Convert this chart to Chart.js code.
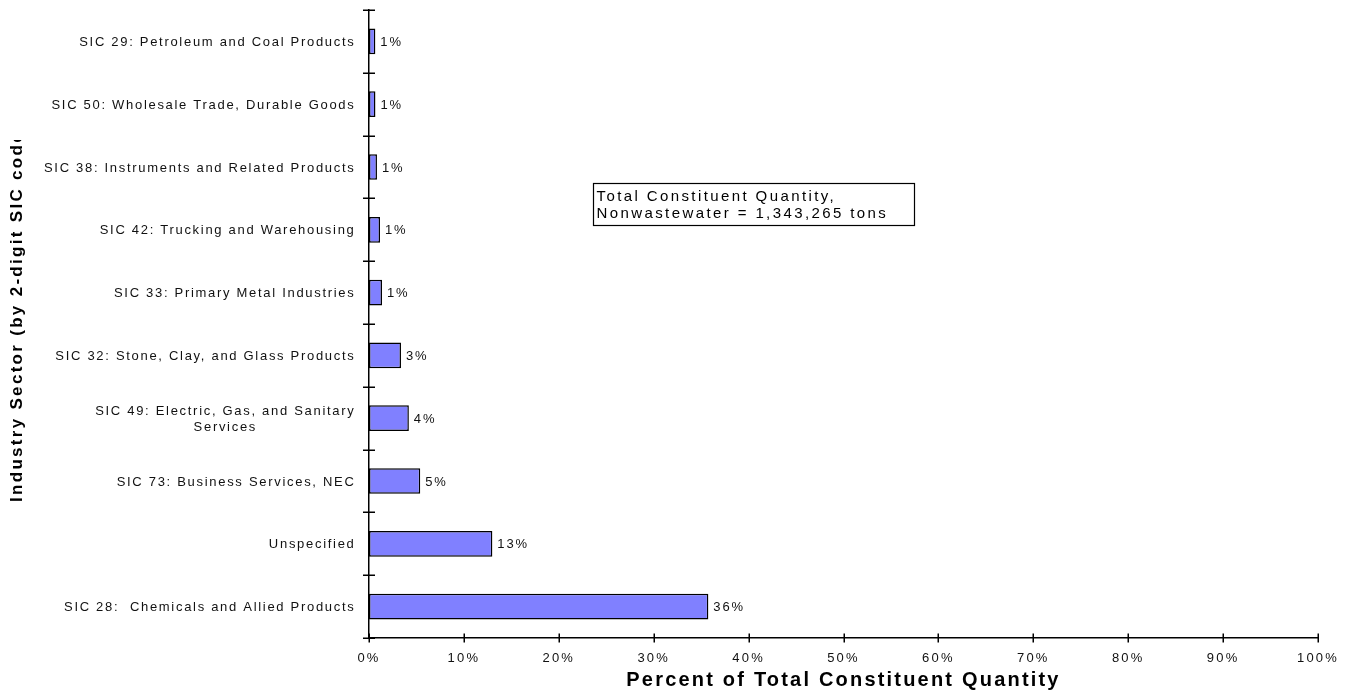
<!DOCTYPE html>
<html>
<head>
<meta charset="utf-8">
<script src="https://cdn.jsdelivr.net/npm/chart.js@4.4.1/dist/chart.umd.min.js"></script>
<style>
  html, body { margin: 0; padding: 0; background: #fff; }
  canvas { display: block; }
</style>
</head>
<body>
<canvas id="sectorChart" width="1354" height="694"></canvas>
<script>
// Industry sectors, listed top to bottom
const sectors = [
    'SIC 29: Petroleum and Coal Products',
    'SIC 50: Wholesale Trade, Durable Goods',
    'SIC 38: Instruments and Related Products',
    'SIC 42: Trucking and Warehousing',
    'SIC 33: Primary Metal Industries',
    'SIC 32: Stone, Clay, and Glass Products',
    ['SIC 49: Electric, Gas, and Sanitary', 'Services'],
    'SIC 73: Business Services, NEC',
    'Unspecified',
    'SIC 28:  Chemicals and Allied Products'
];

// Share of total constituent quantity, percent
const shares = [0.67, 0.68, 0.84, 1.16, 1.37, 3.37, 4.2, 5.4, 13.0, 35.76];

// Percent axis ticks
const percentTicks = [0, 10, 20, 30, 40, 50, 60, 70, 80, 90, 100];

// Note box text
const totalNote = ['Total Constituent Quantity,', 'Nonwastewater = 1,343,265 tons'];

const FONT = 'Arial, "Liberation Sans", sans-serif';

// tick marks, category labels, value labels, note box and the y title
const decorations = {
    id: 'decorations',
    beforeDraw(chart) {
        chart.ctx.letterSpacing = '2.2px';
    },
    afterDraw(chart) {
        const { ctx, chartArea: area, scales: { x, y } } = chart;

        // ticks crossing both axes
        ctx.save();
        ctx.strokeStyle = '#000';
        ctx.lineWidth = 1.5;
        ctx.beginPath();
        x.ticks.forEach((t, i) => {
            const px = Math.round(x.getPixelForTick(i)) + 0.25;
            ctx.moveTo(px, area.bottom - 4.5);
            ctx.lineTo(px, area.bottom + 4.5);
        });
        for (let i = 0; i <= sectors.length; i++) {
            const py = Math.round(y.getPixelForValue(i - 0.5)) + 0.25;
            ctx.moveTo(area.left - 6, py);
            ctx.lineTo(area.left + 6, py);
        }
        ctx.stroke();
        ctx.restore();

        // category labels, multi-line ones centred on their widest line
        ctx.save();
        ctx.letterSpacing = '1.7px';
        ctx.font = '13px ' + FONT;
        ctx.fillStyle = '#111';
        ctx.textAlign = 'center';
        ctx.textBaseline = 'middle';
        sectors.forEach((label, i) => {
            const lines = [].concat(label);
            const cy = y.getPixelForValue(i) + 1;
            const widest = Math.max(...lines.map(l => ctx.measureText(l).width));
            const cx = area.left - 13.5 - widest / 2;
            lines.forEach((l, k) => {
                ctx.fillText(l, cx, cy + (k - (lines.length - 1) / 2) * 16.5);
            });
        });
        ctx.restore();

        // value labels at the end of each bar
        ctx.save();
        ctx.letterSpacing = '1.8px';
        ctx.font = '13px ' + FONT;
        ctx.fillStyle = '#111';
        ctx.textAlign = 'left';
        ctx.textBaseline = 'middle';
        chart.getDatasetMeta(0).data.forEach((bar, i) => {
            ctx.fillText(Math.round(shares[i]) + '%', bar.x + 5, bar.y + 1);
        });
        ctx.restore();

        // note box
        ctx.save();
        const bx = Math.round(area.left + area.width * 0.2357) + 0.5;
        const by = Math.round(area.top + area.height * 0.275) + 0.5;
        ctx.strokeStyle = '#000';
        ctx.lineWidth = 1.2;
        ctx.strokeRect(bx, by, 321, 42);
        ctx.letterSpacing = '2.4px';
        ctx.font = '15px ' + FONT;
        ctx.fillStyle = '#000';
        ctx.textAlign = 'left';
        ctx.textBaseline = 'alphabetic';
        totalNote.forEach((l, k) => ctx.fillText(l, bx + 3, by + 17 + k * 17.3));
        ctx.restore();

        // y title, clipped at the top like the original
        ctx.save();
        ctx.beginPath();
        ctx.rect(0, 140, 40, chart.height - 140);
        ctx.clip();
        ctx.translate(17, 502);
        ctx.rotate(-Math.PI / 2);
        ctx.letterSpacing = '2.3px';
        ctx.font = 'bold 17px ' + FONT;
        ctx.fillStyle = '#000';
        ctx.textAlign = 'left';
        ctx.textBaseline = 'middle';
        ctx.fillText('Industry Sector (by 2-digit SIC code)', 0, 0);
        ctx.restore();
    }
};

window.onload = function () {
    const ctx = document.getElementById('sectorChart').getContext('2d');
    new Chart(ctx, {
        type: 'bar',
        data: {
            labels: sectors,
            datasets: [{
                data: shares,
                backgroundColor: '#8080ff',
                borderColor: '#000',
                borderWidth: 1.5,
                borderSkipped: false,
                barPercentage: 0.41,
                categoryPercentage: 1
            }]
        },
        options: {
            indexAxis: 'y',
            responsive: false,
            animation: false,
            layout: { padding: { top: 10, right: 36, left: 0, bottom: 0 } },
            plugins: {
                legend: { display: false },
                tooltip: { enabled: false }
            },
            scales: {
                x: {
                    type: 'linear',
                    min: 0,
                    max: 100,
                    afterFit: s => { s.height = 56; },
                    afterBuildTicks: s => { s.ticks = percentTicks.map(v => ({ value: v })); },
                    ticks: {
                        padding: 13,
                        color: '#111',
                        font: { family: FONT, size: 13 },
                        maxRotation: 0,
                        autoSkip: false,
                        callback: v => v + '%'
                    },
                    grid: { display: false, drawTicks: false },
                    border: { color: '#000', width: 1.5 },
                    title: {
                        display: true,
                        text: 'Percent of Total Constituent Quantity',
                        color: '#000',
                        font: { family: FONT, size: 20, weight: 'bold' },
                        padding: { top: 0, bottom: 1.5 }
                    }
                },
                y: {
                    afterFit: s => { s.width = 369; },
                    ticks: { display: false },
                    grid: { display: false, drawTicks: false },
                    border: { color: '#000', width: 1.5 }
                }
            }
        },
        plugins: [decorations]
    });
};
</script>
</body>
</html>
